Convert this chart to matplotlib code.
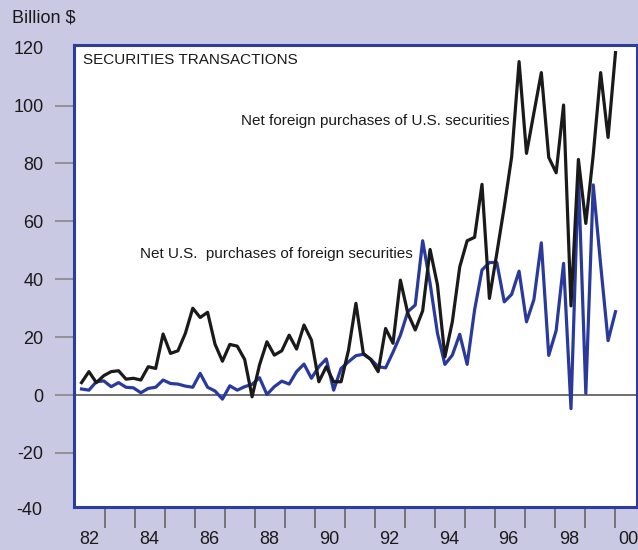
"""
Securities transactions: net foreign purchases of U.S. securities vs.
net U.S. purchases of foreign securities, quarterly 1982-2000.
"""

import matplotlib.pyplot as plt
import matplotlib.transforms as mtransforms
import numpy as np

plt.rcParams["font.family"] = ["Liberation Sans", "DejaVu Sans"]
plt.rcParams["axes.unicode_minus"] = False

# quarterly values, 1982Q1 .. 2000Q1 (billion $)
foreign_buy_us = [
    4.3, 8.1, 4.3, 6.7, 8.1, 8.4, 5.5, 5.8, 5.2, 9.8,
    9.2, 21.1, 14.4, 15.3, 21.3, 30.0, 26.8, 28.6, 17.6, 11.7,
    17.5, 16.9, 12.3, -0.6, 10.4, 18.4, 13.8, 15.3, 20.7, 15.9,
    24.2, 19.0, 4.6, 9.8, 4.6, 4.6, 15.5, 31.7, 14.4, 12.3,
    8.1, 23.0, 17.9, 39.7, 28.2, 22.5, 29.1, 50.3, 38.0, 13.2,
    25.3, 44.3, 53.3, 54.5, 72.8, 33.4, 49.0, 65.0, 82.3, 115.2,
    83.5, 97.5, 111.4, 82.1, 76.8, 100.2, 30.8, 81.4, 59.3, 83.0,
    111.4, 89.0, 118.3,
]
us_buy_foreign = [
    2.1, 1.7, 4.6, 4.9, 2.9, 4.3, 2.7, 2.5, 0.8, 2.3,
    2.7, 5.2, 4.0, 3.8, 3.1, 2.7, 7.5, 2.7, 1.4, -1.4,
    3.2, 1.7, 2.9, 3.7, 6.0, 0.2, 2.9, 4.8, 3.8, 8.1,
    10.7, 5.8, 9.8, 12.5, 1.7, 9.2, 11.5, 13.6, 14.1, 12.4,
    9.8, 9.4, 14.8, 20.7, 28.8, 31.1, 53.3, 38.6, 21.3, 10.6,
    13.8, 21.0, 10.6, 29.4, 43.2, 45.8, 45.8, 32.2, 34.8, 42.8,
    25.3, 33.0, 52.6, 13.7, 22.3, 45.5, -4.7, 76.0, 0.6, 72.6,
    45.0, 18.8, 28.8,
]
year_labels = ["82", "84", "86", "88", "90", "92", "94", "96", "98", "00"]

quarters = 1982 + np.arange(len(foreign_buy_us)) / 4

bg = "#c9c9e3"
frame_blue = "#2c3d9c"
line_blue = "#2a3a9c"
ink = "#1a1a1a"

fig = plt.figure(figsize=(6.38, 5.5), dpi=100, facecolor=bg)
ax = fig.add_axes([0.116, 0.078, 0.882, 0.84])
ax.set_facecolor("white")

ax.axhline(0, color="#555555", linewidth=1.2, zorder=1)
ax.plot(quarters, us_buy_foreign, color=line_blue, linewidth=2.3, zorder=2)
ax.plot(quarters, foreign_buy_us, color=ink, linewidth=2.3, zorder=3)

ax.set_xlim(1981.747, 2000.716)
ax.set_ylim(-38.7, 120.9)

for side in ["left", "right", "top", "bottom"]:
    ax.spines[side].set_color(frame_blue)
    ax.spines[side].set_linewidth(2.2)

# y axis: ticks outside, gray
ax.set_yticks(range(-20, 121, 20))
ax.tick_params(axis="y", direction="out", length=14, width=1.2,
               color="#888888", pad=8, labelsize=13, labelcolor=ink)
ax.yaxis.get_major_ticks()[-1].tick1line.set_visible(False)
trans = mtransforms.blended_transform_factory(ax.transAxes, ax.transData)
ax.text(-0.056, -40, "-40", transform=trans, ha="right", va="center",
        fontsize=13, color=ink)

# x axis: year boundary ticks, labels centred in even years
ax.set_xticks(1982.79 + 1.0108 * np.arange(18))
ax.set_xticks(1982.25 + 1.0108 * np.arange(0, 19, 2), minor=True)
ax.set_xticklabels([])
ax.set_xticklabels(year_labels, minor=True)
ax.tick_params(axis="x", which="major", direction="out", length=15,
               width=1.2, color="#666666")
ax.tick_params(axis="x", which="minor", length=0, pad=17, labelsize=13,
               labelcolor=ink)

ax.text(0.016, 0.9675, "SECURITIES TRANSACTIONS", transform=ax.transAxes,
        ha="left", va="center", fontsize=11, color=ink)
ax.text(0.2966, 0.8355, "Net foreign purchases of U.S. securities",
        transform=ax.transAxes, ha="left", va="center", fontsize=11,
        color=ink)
ax.text(0.117, 0.5476, "Net U.S.  purchases of foreign securities",
        transform=ax.transAxes, ha="left", va="center", fontsize=11,
        color=ink)
fig.text(0.0188, 0.967, "Billion $", ha="left", va="center", fontsize=13,
         color=ink)

fig.savefig("out.png", dpi=100, facecolor=bg)
